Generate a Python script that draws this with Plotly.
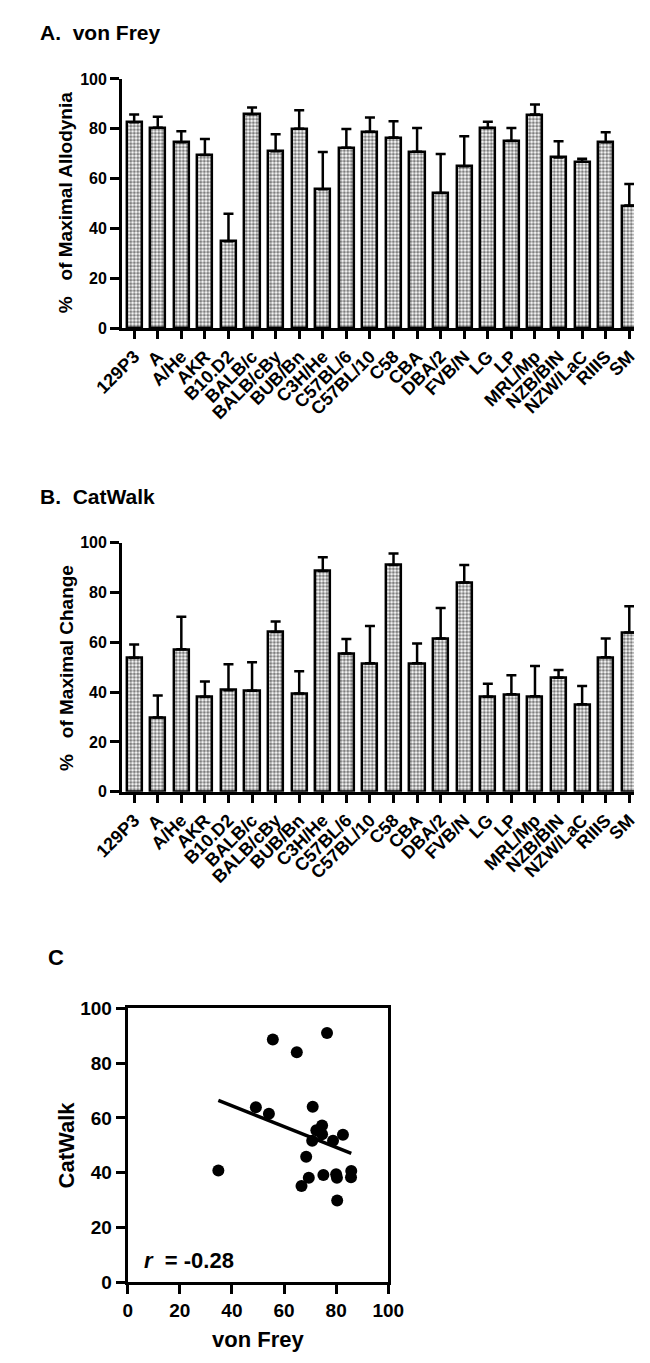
import numpy as np
import plotly.graph_objects as go

W, H = 650, 1363

strains = ["129P3", "A", "A/He", "AKR", "B10.D2", "BALB/c", "BALB/cBy", "BUB/Bn",
           "C3H/He", "C57BL/6", "C57BL/10", "C58", "CBA", "DBA/2", "FVB/N", "LG",
           "LP", "MRL/Mp", "NZB/BIN", "NZW/LaC", "RIIIS", "SM"]

vonfrey_mean = [82.6, 80.4, 74.6, 69.5, 34.8, 85.8, 71.0, 80.0, 55.7, 72.4, 78.8,
                76.5, 70.8, 54.2, 64.9, 80.3, 75.1, 85.7, 68.5, 66.7, 74.6, 49.2]
vonfrey_sem = [3.1, 4.4, 4.4, 6.4, 11.1, 2.7, 6.8, 7.4, 15.0, 7.5, 5.7,
               6.5, 9.5, 15.7, 12.1, 2.5, 5.2, 4.0, 6.5, 1.3, 4.0, 8.6]

catwalk_mean = [53.8, 29.8, 57.2, 38.1, 40.8, 40.6, 64.1, 39.4, 88.6, 55.5, 51.6,
                91.0, 51.6, 61.5, 84.0, 38.1, 39.1, 38.3, 45.8, 35.1, 54.0, 63.9]
catwalk_sem = [5.3, 8.8, 13.1, 6.2, 10.4, 11.4, 4.3, 9.0, 5.5, 5.8, 14.9,
               4.6, 7.9, 12.3, 7.0, 5.3, 7.7, 12.2, 3.1, 7.4, 7.5, 10.6]

yticks = [0, 20, 40, 60, 80, 100]
r_text = "-0.28"

FONT = "Arial, Liberation Sans, Helvetica, sans-serif"


def px_x(p):
    return p / W


def px_y(p):
    return 1 - p / H


bar_marker = dict(
    color="white",
    line=dict(color="black", width=2.5),
    pattern=dict(shape=".", fgcolor="black", bgcolor="white", size=3.5,
                 solidity=0.6, fillmode="overlay"),
)


def err(sem):
    return dict(type="data", array=sem, arrayminus=[0] * len(sem), symmetric=False,
                color="black", thickness=2.5, width=5, visible=True)


fig = go.Figure()

fig.add_trace(go.Bar(x=strains, y=vonfrey_mean, error_y=err(vonfrey_sem),
                     marker=bar_marker, width=0.64, xaxis="x", yaxis="y",
                     showlegend=False))
fig.add_trace(go.Bar(x=strains, y=catwalk_mean, error_y=err(catwalk_sem),
                     marker=bar_marker, width=0.64, xaxis="x2", yaxis="y2",
                     showlegend=False))

fig.add_trace(go.Scatter(x=vonfrey_mean, y=catwalk_mean, mode="markers",
                         marker=dict(color="black", size=12),
                         xaxis="x3", yaxis="y3", showlegend=False))

slope, intercept = np.polyfit(vonfrey_mean, catwalk_mean, 1)
xl = [min(vonfrey_mean), max(vonfrey_mean)]
yl = [slope * v + intercept for v in xl]
fig.add_trace(go.Scatter(x=xl, y=yl, mode="lines", line=dict(color="black", width=3.5),
                         xaxis="x3", yaxis="y3", showlegend=False))

bar_xaxis = dict(
    type="category", range=[-0.513, 21.2], showline=True, linewidth=3, linecolor="black",
    ticks="outside", ticklen=8, tickwidth=2.5, tickcolor="black", tickangle=-45,
    tickfont=dict(family=FONT, size=18, color="black", weight=700),
    showgrid=False, zeroline=False, fixedrange=True,
)
bar_yaxis = dict(
    range=[0, 100], tickvals=yticks, showline=True, linewidth=3, linecolor="black",
    ticks="outside", ticklen=9, tickwidth=2.5, tickcolor="black",
    tickfont=dict(family=FONT, size=16, color="black", weight=700),
    showgrid=False, zeroline=False,
)

xa_dom = [px_x(100), 1.0]

sc_axis = dict(
    range=[0, 100], tickvals=yticks, showline=True, mirror=True, linewidth=3,
    linecolor="black", ticks="outside", ticklen=9, tickwidth=2.5, tickcolor="black",
    tickfont=dict(family=FONT, size=19, color="black", weight=700),
    showgrid=False, zeroline=False,
)

fig.update_layout(
    width=W, height=H, margin=dict(l=0, r=0, t=0, b=0),
    paper_bgcolor="white", plot_bgcolor="white", bargap=0,
    font=dict(family=FONT, color="black"),
    xaxis=dict(bar_xaxis, domain=xa_dom, anchor="y"),
    yaxis=dict(bar_yaxis, domain=[px_y(323), px_y(70)], anchor="x"),
    xaxis2=dict(bar_xaxis, domain=xa_dom, anchor="y2"),
    yaxis2=dict(bar_yaxis, domain=[px_y(794), px_y(541)], anchor="x2"),
    xaxis3=dict(sc_axis, domain=[px_x(106), px_x(386)], anchor="y3"),
    yaxis3=dict(sc_axis, domain=[px_y(1292), px_y(1014)], anchor="x3"),
)

NB = "\u00a0"
annos = [
    dict(text="<b>A." + NB * 2 + "von Frey</b>", x=px_x(10), y=px_y(23), size=21,
         xanchor="left", yanchor="middle", angle=0),
    dict(text="<b>B." + NB * 2 + "CatWalk</b>", x=px_x(10), y=px_y(494), size=21,
         xanchor="left", yanchor="middle", angle=0),
    dict(text="<b>C</b>", x=px_x(18), y=px_y(962), size=22,
         xanchor="left", yanchor="middle", angle=0),
    dict(text="<b>%" + NB * 3 + "of Maximal Allodynia</b>", x=px_x(40), y=px_y(196), size=19,
         xanchor="center", yanchor="middle", angle=-90),
    dict(text="<b>%" + NB * 3 + "of Maximal Change</b>", x=px_x(40), y=px_y(668), size=19,
         xanchor="center", yanchor="middle", angle=-90),
    dict(text="<b>CatWalk</b>", x=px_x(40), y=px_y(1153), size=22,
         xanchor="center", yanchor="middle", angle=-90),
    dict(text="<b>von Frey</b>", x=px_x(246), y=px_y(1350), size=22,
         xanchor="center", yanchor="middle", angle=0),
    dict(text="<b><i>r</i>" + NB * 2 + "= " + r_text + "</b>", x=px_x(121), y=px_y(1270), size=22,
         xanchor="left", yanchor="middle", angle=0),
]
for a in annos:
    fig.add_annotation(text=a["text"], x=a["x"], y=a["y"], xref="paper", yref="paper",
                       xanchor=a["xanchor"], yanchor=a["yanchor"], textangle=a["angle"],
                       showarrow=False, font=dict(family=FONT, size=a["size"], color="black"))

fig.write_html("out.html")
